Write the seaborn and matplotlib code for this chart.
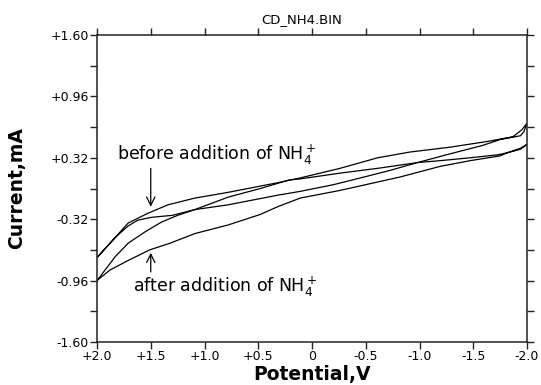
import numpy as np
import pandas as pd
import seaborn as sns
import matplotlib.pyplot as plt

# potential (V) and current (mA), two branches per scan
before_up_v = [2.00, 1.83, 1.71, 1.53, 1.34, 1.09, 0.78, 0.32, 0.11, -0.26, -0.61, -0.91, -1.28, -1.63, -1.87, -1.95, -2.00]
before_up_i = [-0.72, -0.51, -0.36, -0.26, -0.17, -0.10, -0.04, 0.06, 0.11, 0.21, 0.32, 0.38, 0.43, 0.49, 0.54, 0.61, 0.68]
before_lo_v = [2.00, 1.83, 1.71, 1.62, 1.49, 1.30, 1.09, 0.78, 0.32, 0.11, -0.20, -0.45, -0.73, -0.98, -1.28, -1.59, -1.75, -1.94, -1.97, -2.00]
before_lo_i = [-0.72, -0.51, -0.39, -0.33, -0.30, -0.28, -0.22, -0.17, -0.07, -0.03, 0.04, 0.11, 0.19, 0.27, 0.36, 0.45, 0.51, 0.55, 0.59, 0.68]

after_up_v = [2.00, 1.83, 1.71, 1.55, 1.40, 1.25, 1.09, 0.78, 0.48, 0.21, 0.11, -0.26, -0.61, -0.98, -1.19, -1.47, -1.72, -1.81, -1.94, -2.00]
after_up_i = [-0.96, -0.71, -0.57, -0.45, -0.35, -0.28, -0.22, -0.09, 0.00, 0.09, 0.10, 0.16, 0.21, 0.27, 0.29, 0.32, 0.35, 0.37, 0.42, 0.46]
after_lo_v = [2.00, 1.88, 1.71, 1.51, 1.32, 1.09, 0.78, 0.48, 0.32, 0.11, -0.26, -0.82, -1.19, -1.47, -1.75, -1.81, -1.94, -2.00]
after_lo_i = [-0.96, -0.85, -0.75, -0.64, -0.57, -0.47, -0.38, -0.27, -0.19, -0.10, -0.02, 0.12, 0.23, 0.29, 0.34, 0.37, 0.41, 0.46]

x_ticks = [2.0, 1.5, 1.0, 0.5, 0.0, -0.5, -1.0, -1.5, -2.0]
x_tick_labels = ['+2.0', '+1.5', '+1.0', '+0.5', '0', '-0.5', '-1.0', '-1.5', '-2.0']
y_ticks = [-1.60, -1.28, -0.96, -0.64, -0.32, 0.0, 0.32, 0.64, 0.96, 1.28, 1.60]
y_tick_labels = ['-1.60', '', '-0.96', '', '-0.32', '', '+0.32', '', '+0.96', '', '+1.60']

# each scan as one closed loop: out along one branch, back along the other
frames = []
for name, v1, i1, v2, i2 in [('before', before_up_v, before_up_i, before_lo_v, before_lo_i),
                             ('after', after_up_v, after_up_i, after_lo_v, after_lo_i)]:
    frames.append(pd.DataFrame({'potential': v1 + v2[::-1],
                                'current': i1 + i2[::-1],
                                'scan': name}))
df = pd.concat(frames, ignore_index=True)

sns.set_style('ticks')
plt.rcParams['font.family'] = ['DejaVu Sans']
plt.rcParams['text.color'] = 'black'

fig, ax = plt.subplots(figsize=(5.41, 3.85), dpi=100)
fig.subplots_adjust(left=97 / 541, right=527 / 541, top=1 - 35 / 385, bottom=1 - 342 / 385)

sns.lineplot(data=df, x='potential', y='current', units='scan', estimator=None,
             sort=False, color='black', lw=0.9, ax=ax)

ax.set_xlim(2.0, -2.0)
ax.set_ylim(-1.6, 1.6)
ax.set_xticks(x_ticks)
ax.set_xticklabels(x_tick_labels)
ax.set_yticks(y_ticks)
ax.set_yticklabels(y_tick_labels)
ax.tick_params(direction='out', length=5, width=1, colors='#222222', labelcolor='black',
               labelsize=9, top=True, right=True, pad=1)
for s in ax.spines.values():
    s.set_color('#222222')
    s.set_linewidth(1.1)

ax.set_xlabel('Potential,V', fontsize=13.5, fontweight='bold', color='black')
ax.set_ylabel('Current,mA', fontsize=13.5, fontweight='bold', color='black')
ax.xaxis.set_label_coords(0.5, -0.075)
ax.yaxis.set_label_coords(-0.165, 0.5)

fig.text(302 / 541, 1 - 23 / 385, 'CD_NH4.BIN', ha='center', va='baseline', fontsize=9.5)

arrow = dict(arrowstyle='->,head_length=0.6,head_width=0.3', color='black', lw=0.9, shrinkA=0, shrinkB=0)
ax.annotate('', xy=(1.5, -0.19), xytext=(1.5, 0.21), arrowprops=arrow)
ax.annotate('', xy=(1.5, -0.67), xytext=(1.5, -0.87), arrowprops=arrow)
ax.text(1.814, 0.297, r'before addition of NH$_4^+$', ha='left', va='baseline', fontsize=12.5)
ax.text(1.665, -1.079, r'after addition of NH$_4^+$', ha='left', va='baseline', fontsize=12.5)

fig.savefig('out.png', dpi=100)
